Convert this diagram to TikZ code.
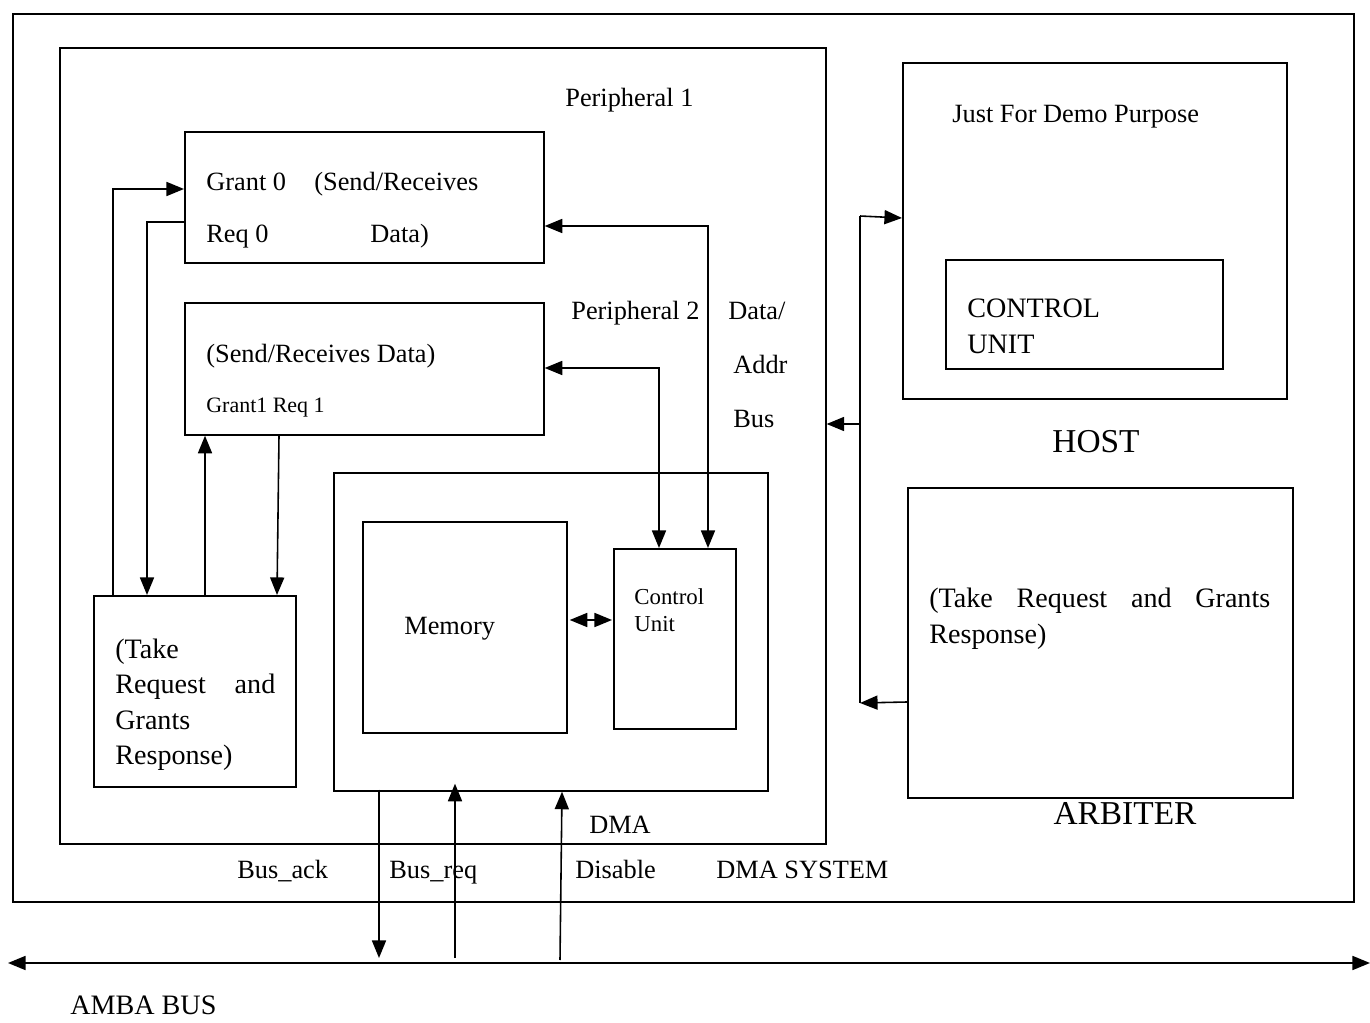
\documentclass[tikz,border=0pt]{standalone}
\usepackage{fontspec}
\setmainfont{Liberation Serif}
\usetikzlibrary{arrows.meta,calc}
\begin{document}
\begin{tikzpicture}[x=0.02cm,y=-0.02cm,
  box/.style={draw, line width=1pt, inner sep=0pt, anchor=north west},
  lbl/.style={inner sep=0pt, anchor=mid west, font=\fontsize{15}{18}\selectfont},
  big/.style={inner sep=0pt, anchor=mid, font=\fontsize{19}{22}\selectfont},
  para/.style={inner sep=0pt, anchor=north west, align=left},
  arr/.style={line width=0.9pt, -{Triangle[length=10pt,width=8pt]}},
  darr/.style={line width=0.9pt, {Triangle[length=10pt,width=8pt]}-{Triangle[length=10pt,width=8pt]}}]
\useasboundingbox (0,0) rectangle (1370,1023);

% boxes
\node[box, minimum width=26.82cm, minimum height=17.76cm] (sys) at (12,13) {};
\node[box, minimum width=15.32cm, minimum height=15.92cm] (inner) at (59,47) {};
\node[box, minimum width=7.18cm, minimum height=2.62cm] (p1) at (184,131) {};
\node[box, minimum width=7.18cm, minimum height=2.64cm] (p2) at (184,302) {};
\node[box, minimum width=4.04cm, minimum height=3.82cm] (arbL) at (93,595) {};
\node[box, minimum width=8.68cm, minimum height=6.36cm] (dma) at (333,472) {};
\node[box, minimum width=4.08cm, minimum height=4.22cm] (mem) at (362,521) {};
\node[box, minimum width=2.44cm, minimum height=3.6cm] (cu) at (613,548) {};
\node[box, minimum width=7.68cm, minimum height=6.72cm] (host) at (902,62) {};
\node[box, minimum width=5.54cm, minimum height=2.18cm] (hcu) at (945,259) {};
\node[box, minimum width=7.7cm, minimum height=6.2cm] (arbR) at (907,487) {};

% texts
\node[lbl] (t1) at (565,102) {Peripheral 1};
\node[lbl] (t2) at (206,186) {Grant 0};
\node[lbl] (t3) at (314,186) {(Send/Receives};
\node[lbl] (t4) at (206,238) {Req 0};
\node[lbl] (t5) at (370,238) {Data)};
\node[lbl] (t6) at (206,358) {(Send/Receives Data)};
\node[lbl, font=\fontsize{12.5}{15}\selectfont] (t7) at (206,408) {Grant1 Req 1};
\node[lbl] (t8) at (571,315) {Peripheral 2};
\node[lbl] (t9) at (728,315) {Data/};
\node[lbl] (t10) at (733,369) {Addr};
\node[lbl] (t11) at (733,423) {Bus};
\node[lbl] (t12) at (404,630) {Memory};
\node[para, font=\fontsize{13}{15.5}\selectfont] (t13) at (634,588) {Control\\Unit};
\node[para, font=\fontsize{16}{20}\selectfont] (t14) at (115,639)
  {(Take\\\makebox[3.2cm][s]{Request and}\\Grants\\Response)};
\node[lbl] (t15) at (952,118) {Just For Demo Purpose};
\node[para, font=\fontsize{16}{20}\selectfont] (t16) at (967,299) {CONTROL\\UNIT};
\node[big] (t17) at (1096,448) {HOST};
\node[para, font=\fontsize{16}{20.4}\selectfont] (t18) at (929,588)
  {\makebox[6.82cm][s]{(Take Request and Grants}\\Response)};
\node[big] (t19) at (1125,820) {ARBITER};
\node[lbl, anchor=mid] (t20) at (620,829) {DMA};
\node[lbl] (t21) at (237,874) {Bus\_ack};
\node[lbl] (t22) at (389,874) {Bus\_req};
\node[lbl] (t23) at (575,874) {Disable};
\node[lbl] (t24) at (716,874) {DMA SYSTEM};
\node[lbl, font=\fontsize{16}{19}\selectfont] (t25) at (70,1010) {AMBA BUS};

% AMBA bus
\coordinate (amL) at (8,963);
\coordinate (amR) at (1370,963);
\draw[darr] (amL) -- (amR);

% connectors
\draw[arr] ($(arbL.north west)+(20,0)$) |- ($(p1.north west)+(0,58)$);
\draw[arr] ($(p1.north west)+(0,91)$) -| ($(arbL.north west)+(54,0)$);
\draw[arr] ($(arbL.north west)+(112,0)$) -- ($(p2.south west)+(21,0)$);
\draw[arr] ($(p2.south west)+(95,0)$) -- ($(arbL.north west)+(184,0)$);
\draw[darr] ($(p1.north east)+(0,95)$) -| ($(cu.north west)+(95,0)$);
\draw[darr] ($(p2.north east)+(0,66)$) -| ($(cu.north west)+(46,0)$);
\draw[darr] ($(mem.north east)+(2,99)$) -- ($(cu.north west)+(-1,72)$);

% host / arbiter bus
\coordinate (hbT) at (860,216);
\coordinate (hbB) at (860,703);
\draw[line width=0.9pt] (hbT) -- (hbB);
\draw[arr] (hbT) -- ($(host.north west)+(0,156)$);
\draw[arr] ($(hbT)+(0,208)$) -- ($(inner.north east)+(0,377)$);
\draw[arr] ($(arbR.north west)+(0,215)$) -- (hbB);

% DMA <-> AMBA
\draw[arr] ($(dma.south west)+(46,-2)$) -- ($(amL)+(371,-5)$);
\draw[arr] ($(amL)+(447,-5)$) -- ($(dma.south west)+(122,-8)$);
\draw[arr] ($(amL)+(552,-3)$) -- ($(dma.south west)+(229,0)$);
\end{tikzpicture}
\end{document}
